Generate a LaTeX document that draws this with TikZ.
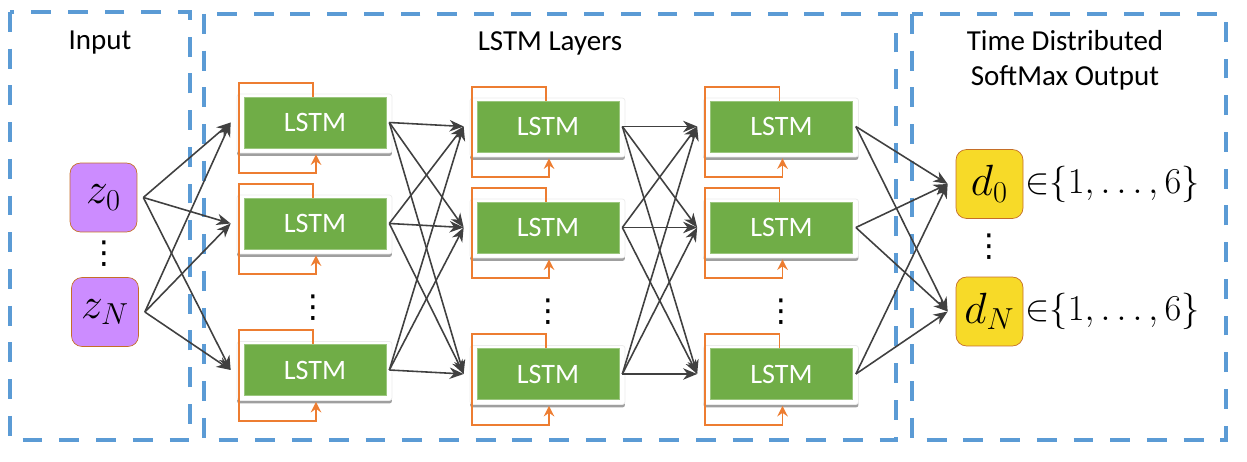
\documentclass[tikz,border=0pt]{standalone}
\usepackage{amsmath}
\usepackage{fontspec}
\newfontfamily\labelfont{Carlito}
\newfontfamily\dotsfont{DejaVu Sans}
\definecolor{boxblue}{RGB}{91,155,213}
\definecolor{lstmgreen}{RGB}{112,173,71}
\definecolor{looporange}{RGB}{237,125,49}
\definecolor{inpurple}{RGB}{204,140,255}
\definecolor{outyellow}{RGB}{247,218,40}
\definecolor{edgebrown}{RGB}{197,110,40}
\definecolor{arrowgray}{RGB}{64,64,64}
\usetikzlibrary{arrows.meta,positioning,calc,shadows}

\begin{document}
\begin{tikzpicture}[x=0.02cm,y=-0.02cm,
  groupbox/.style={draw=boxblue,line width=2.3pt,dash pattern=on 11.3pt off 9.6pt},
  heading/.style={font=\labelfont\fontsize{16.5}{20}\selectfont,align=center},
  card/.style={fill=white,draw=gray!15,rounded corners=1.5pt,
        minimum width=3.1cm,minimum height=1.18cm,inner sep=0pt,
        drop shadow={shadow xshift=0pt,shadow yshift=-1.7pt,fill=gray!75,opacity=1}},
  lstm/.style={fill=lstmgreen,draw=lstmgreen!70!white,minimum width=2.84cm,
        minimum height=1.02cm,inner sep=0pt,text=white,
        font=\labelfont\fontsize{16}{19}\selectfont},
  invar/.style={fill=inpurple,draw=edgebrown,rounded corners=6pt,
        minimum width=1.34cm,minimum height=1.38cm,inner sep=0pt,
        font=\fontsize{24}{28}\selectfont},
  outvar/.style={invar,fill=outyellow},
  setlabel/.style={inner sep=0pt,font=\fontsize{22}{26}\selectfont},
  link/.style={draw=arrowgray,line width=0.9pt,-{Stealth[length=8pt,width=6.5pt,inset=2.5pt]}},
  recur/.style={draw=looporange,line width=1pt,-{Stealth[length=6pt,width=6pt,inset=2pt]}},
  dots/.style={font=\dotsfont\fontsize{18}{20}\selectfont,inner sep=0pt}
]
\useasboundingbox (0,0) rectangle (1247,462);

\draw[groupbox] (10,12) rectangle (190,440);
\draw[groupbox] (204,14) rectangle (896,440);
\draw[groupbox] (912,14) rectangle (1226,440);

\node[heading] (ttlin) at (100,43) {Input};
\node[heading] (ttllstm) at (550,43) {LSTM Layers};
\node[heading] (ttlout) at (1065,60) {Time Distributed\\SoftMax Output};

\node[invar] (z0) at (103.5,197.5) {$z_0$};
\node[invar] (zN) at (105,312) {$z_N$};
\node[dots] (zdots) at (104,254) {⋮};
\coordinate (z0-out) at ($(z0.east)+(6,0)$);
\coordinate (zN-out) at ($(zN.east)+(6,0)$);

\foreach \c/\x/\dy in {1/315/-4,2/548/0,3/781.5/0}{
  \foreach \r/\y in {1/126.5,2/227.5,3/374}{
    \node[card] (k\c\r) at (\x-0.5,\y+\dy+1) {};
    \node[lstm] (l\c\r) at (\x,\y+\dy) {LSTM};
    \draw[recur] ($(l\c\r.north)+(-2,0)$) -- ++(0,-14)
      -| ($(l\c\r.south west)+(-5,25)$) -| ($(l\c\r.south)+(1,6)$);
    \coordinate (l\c\r-in) at ($(l\c\r.west)+(-13,0)$);
    \coordinate (l\c\r-out) at ($(l\c\r.east)+(3,0)$);
  }
}
\node[dots] (ldots1) at (313,308) {⋮};
\node[dots] (ldots2) at (548,312) {⋮};
\node[dots] (ldots3) at (781,312) {⋮};

\node[outvar] (d0) at (989.5,184) {$d_0$};
\node[outvar] (dN) at (989.5,311.5) {$d_N$};
\node[dots] (ddots) at (989,247) {⋮};
\node[setlabel,right=1pt of d0] (d0set) {${\in}\{1,\ldots,6\}$};
\node[setlabel,right=1pt of dN] (dNset) {${\in}\{1,\ldots,6\}$};
\coordinate (d0-in) at ($(d0.west)+(-8,0)$);
\coordinate (dN-in) at ($(dN.west)+(-8,0)$);

\foreach \z in {z0,zN}
  \foreach \s in {1,2,3}
    \draw[link] (\z-out) -- (l1\s-in);
\foreach \c/\n in {1/2,2/3}
  \foreach \r in {1,2,3}
    \foreach \s in {1,2,3}
      \draw[link] (l\c\r-out) -- (l\n\s-in);
\foreach \r in {1,2,3}
  \foreach \d in {d0,dN}
    \draw[link] (l3\r-out) -- (\d-in);
\end{tikzpicture}
\end{document}
